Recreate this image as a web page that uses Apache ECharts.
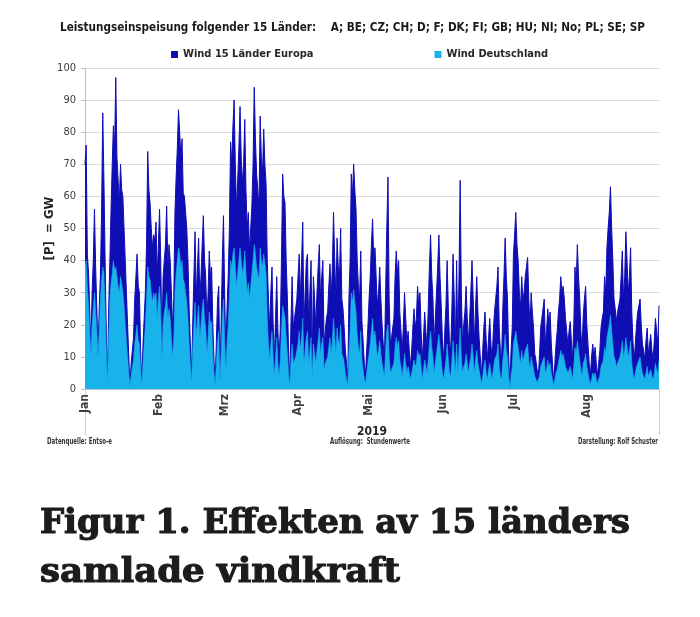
<!DOCTYPE html>
<html><head><meta charset="utf-8">
<script src="https://cdn.jsdelivr.net/npm/echarts@6/dist/echarts.min.js"></script>
<style>html,body{margin:0;padding:0;background:#fff}#c{width:700px;height:617px}</style>
</head><body><div id="c"></div>
<script>
// ---------- data ----------
const chartTitle = 'Leistungseinspeisung folgender 15 Länder:    A; BE; CZ; CH; D; F; DK; FI; GB; HU; NI; No; PL; SE; SP';
const seriesNames = ['Wind 15 Länder Europa', 'Wind Deutschland'];
const monthNames = ['Jan','Feb','Mrz','Apr','Mai','Jun','Jul','Aug'];
const monthDays = [31,28,31,30,31,30,31,31];
const yearLabel = '2019';
const yAxisName = '[P]  = GW';
const yMin = 0, yMax = 100, yStep = 10;
const footerLeft = 'Datenquelle: Entso-e';
const footerMid = 'Auflösung:  Stundenwerte';
const footerRight = 'Darstellung: Rolf Schuster';
const captionLines = ['Figur 1. Effekten av 15 länders', 'samlade vindkraft'];

// half-day values, GW — Wind 15 Länder Europa
const euJan = [70,76,42,36,25,12,30,40,56,38,25,12,25,35,55,86,65,40,18,2,25,40,56,70,82,75,97,72,65,58,70,62,60,50,40,30,20,10,1,8,12,16,28,35,42,32,30,12,1,14,22,30,45,74,62,58,50,44,48,46,52,35];
const euFeb = [45,56,40,14,35,40,45,57,38,45,40,30,19,28,55,66,75,87,80,72,78,61,60,55,50,40,25,14,4,20,35,49,28,38,47,28,35,45,54,40,35,21,30,43,35,38,20,9,2,15,28,32,4,20,40,54];
const euMar = [30,11,25,35,50,77,70,82,90,70,56,65,75,88,72,64,70,84,62,50,55,43,50,57,70,94,78,67,62,57,85,72,67,81,70,64,40,28,19,30,38,20,9,22,35,18,9,19,40,67,60,58,40,28,12,2,20,35,19,22,25,28];
const euApr = [35,42,28,40,52,19,30,40,42,19,30,40,9,35,28,19,30,38,45,28,35,40,14,18,22,24,32,39,28,38,55,40,28,47,38,35,50,28,25,19,12,8,2,28,40,67,60,70,62,56,40,32,28,43,21,15,8,4,12,19];
const euMay = [28,35,45,53,40,44,35,26,30,38,28,20,14,9,30,50,66,28,14,16,19,22,35,43,36,40,24,18,11,20,30,22,14,18,12,7,12,19,25,19,22,32,26,30,18,9,16,24,18,13,25,38,48,35,28,14,22,30,38,48,35,26];
const euJun = [15,9,18,26,40,25,14,12,25,42,28,14,40,14,35,65,30,14,20,24,32,22,14,22,30,40,28,14,25,35,24,16,10,4,12,19,24,15,9,16,22,14,9,18,24,28,32,38,19,12,9,25,35,47,35,28,10,0.5,12,19];
const euJul = [42,48,55,45,40,30,25,35,28,30,35,38,41,28,19,30,24,19,11,9,6,4,10,19,22,25,28,14,18,25,20,24,14,8,2,8,14,18,24,28,35,30,32,28,22,18,14,18,21,15,9,20,38,32,45,35,28,18,12,23,28,32];
const euAug = [20,14,8,4,10,14,10,13,8,4,8,12,19,22,24,35,30,44,50,55,63,50,40,28,25,21,24,26,28,35,43,28,35,49,40,30,35,44,24,15,9,14,20,24,26,28,20,14,12,9,15,19,11,14,17,12,9,15,22,18,14,26];

// half-day values, GW — Wind Deutschland
const deJan = [38,40,32,26,18,10,20,25,30,24,18,10,18,28,34,38,36,25,12,2,15,28,33,36,40,37,38,35,32,30,35,33,30,26,20,15,10,5,1,4,7,9,14,17,20,15,14,6,1,8,14,20,28,38,35,34,30,27,30,28,30,22];
const deFeb = [28,32,24,9,20,24,26,30,22,25,22,16,10,15,30,36,40,44,42,38,40,34,33,30,27,22,14,8,2,12,20,27,16,22,26,16,20,25,28,22,19,11,16,24,20,21,11,5,1,8,15,18,2,11,22,28];
const deMar = [15,6,14,20,28,40,38,42,44,38,32,36,40,44,40,36,38,43,36,30,33,28,32,36,40,45,42,38,36,34,44,40,38,42,39,36,22,14,9,14,18,10,4,10,16,8,4,9,18,26,24,22,16,11,5,1,8,14,8,9,10,12];
const deApr = [14,18,12,16,22,8,12,16,18,8,12,16,4,14,11,8,12,15,19,11,14,16,6,8,9,10,13,16,11,15,22,16,11,19,15,14,20,11,10,8,5,3,1,11,18,30,27,31,27,24,17,13,11,18,9,6,3,2,5,8];
const deMay = [11,14,18,22,16,18,14,10,12,15,11,8,6,4,12,18,20,10,5,6,7,8,13,16,13,15,9,7,4,7,11,8,5,7,5,3,5,7,9,7,8,12,10,11,7,3,6,9,7,5,9,14,18,13,10,5,8,11,14,17,13,9];
const deJun = [5,3,6,9,14,9,5,4,9,15,10,5,14,5,12,19,10,5,7,8,11,8,5,8,10,14,10,5,9,12,8,6,4,1.5,4,7,9,5,3,6,8,5,3,6,9,10,11,14,7,4,3,9,12,17,12,10,4,0.3,4,7];
const deJul = [14,16,18,15,13,10,8,12,9,10,12,13,14,9,6,10,8,6,4,3,2,1.5,4,7,8,9,10,5,6,9,7,8,5,3,1,3,5,6,8,10,12,10,11,9,7,6,5,6,7,5,3,7,13,11,15,12,9,6,4,8,9,11];
const deAug = [7,5,3,1.5,3,5,4,5,3,1.5,3,4,7,8,9,13,11,16,18,20,23,18,14,10,9,7,8,9,10,12,15,10,12,16,13,10,12,15,8,5,3,5,7,8,9,10,7,5,4,3,5,7,4,5,6,4,3,5,8,6,5,9];

// ---------- build ----------
const europe = [].concat(euJan, euFeb, euMar, euApr, euMay, euJun, euJul, euAug);
const germany = [].concat(deJan, deFeb, deMar, deApr, deMay, deJun, deJul, deAug);
const categories = [];
const monthStart = new Set();
monthNames.forEach((m, mi) => {
  for (let d = 1; d <= monthDays[mi]; d++) {
    ['00', '12'].forEach(h => {
      if (d === 1 && h === '00') monthStart.add(categories.length);
      categories.push(m + ' ' + d + ' ' + h + ':00');
    });
  }
});

const mctx = document.createElement('canvas').getContext('2d');
function installed(fam) {
  const probe = 'mmmmmmmmmmlliiWWQQ@#1234 abcdefg';
  return ['monospace', 'serif', 'sans-serif'].some(base => {
    mctx.font = 'bold 40px ' + base; const w0 = mctx.measureText(probe).width;
    mctx.font = 'bold 40px "' + fam + '", ' + base; const w1 = mctx.measureText(probe).width;
    return Math.abs(w0 - w1) > 0.5;
  });
}
function pick(list, fallback) {
  for (const f of list) if (installed(f)) return '"' + f + '"';
  return fallback;
}
const NARROW = pick(['Liberation Sans Narrow', 'DejaVu Sans Condensed', 'Roboto Condensed', 'Open Sans Condensed', 'Liberation Sans'], 'sans-serif');
const SLAB = pick(['DejaVu Serif', 'Noto Serif', 'Liberation Serif'], 'serif');

const DARK = '#0f0db4', LIGHT = '#19b3eb';

function fit(text, weight, size, family, target) {
  mctx.font = weight + ' ' + size + 'px ' + family;
  return target / mctx.measureText(text).width;
}
function txt(text, x, y, size, weight, family, color, targetW, strokeW) {
  const s = targetW ? fit(text, weight, size, family, targetW) : 1;
  const style = { text: text, font: weight + ' ' + size + 'px ' + family, fontSize: size, fontWeight: weight, fontFamily: family, fill: color,
      align: 'left', textAlign: 'left', verticalAlign: 'middle', textVerticalAlign: 'middle' };
  if (strokeW) { style.stroke = color; style.lineWidth = strokeW; }
  return { type: 'text', x: x, y: y, scaleX: s, silent: true, style: style };
}

const chart = echarts.init(document.getElementById('c'), null, { renderer: 'canvas' });
chart.setOption({
  animation: false,
  backgroundColor: '#fff',
  grid: { left: 85, right: 41, top: 68, bottom: 228, containLabel: false },
  legend: {
    data: seriesNames, left: 171, top: 49, padding: 0, icon: 'rect', itemWidth: 7, itemHeight: 7, itemGap: 121,
    textStyle: { fontFamily: NARROW, fontWeight: 'bold', fontSize: 11, color: '#262626' }
  },
  xAxis: {
    type: 'category', data: categories, boundaryGap: false,
    name: yearLabel, nameLocation: 'middle', nameGap: 32,
    nameTextStyle: { fontFamily: NARROW, fontWeight: 'bold', fontSize: 12, color: '#262626' },
    axisLine: { show: true, lineStyle: { color: '#bfbfbf', width: 1 } },
    axisTick: { show: true, interval: (i) => i === 0 || i === categories.length - 1, length: 46, lineStyle: { color: '#d0d0d0' } },
    axisLabel: {
      interval: (i) => monthStart.has(i), rotate: 90, margin: 5,
      formatter: (v) => v.split(' ')[0],
      fontFamily: NARROW, fontWeight: 'bold', fontSize: 12, color: '#404040'
    },
    splitLine: { show: false }
  },
  yAxis: {
    type: 'value', min: yMin, max: yMax, interval: yStep,
    name: yAxisName, nameLocation: 'middle', nameGap: 29, nameMoveOverlap: false,
    nameTextStyle: { fontFamily: NARROW, fontWeight: 'bold', fontSize: 13, color: '#262626' },
    axisLine: { show: true, lineStyle: { color: '#bfbfbf' } },
    axisTick: { show: true, length: 4, lineStyle: { color: '#bfbfbf' } },
    axisLabel: { margin: 9, fontFamily: NARROW, fontSize: 11, color: '#404040' },
    splitLine: { show: true, lineStyle: { color: '#dcdcdc', width: 1 } }
  },
  series: [
    { name: seriesNames[0], type: 'line', data: europe, showSymbol: false, symbol: 'none',
      color: DARK, lineStyle: { width: 1, color: DARK }, areaStyle: { color: DARK, opacity: 1 }, z: 2 },
    { name: seriesNames[1], type: 'line', data: germany, showSymbol: false, symbol: 'none',
      color: LIGHT, lineStyle: { width: 0.6, color: LIGHT }, areaStyle: { color: LIGHT, opacity: 1 }, z: 3 }
  ],
  graphic: [
    txt(chartTitle, 60, 28, 13, 'bold', NARROW, '#1a1a1a', 585),
    txt(footerLeft, 47, 442, 8, 'bold', NARROW, '#333', 65),
    txt(footerMid, 330, 442, 8, 'bold', NARROW, '#333', 80),
    txt(footerRight, 578, 442, 8, 'bold', NARROW, '#333', 80),
    txt(captionLines[0], 40, 524, 33, 'bold', SLAB, '#1c1c1c', 590, 1.1),
    txt(captionLines[1], 40, 573, 33, 'bold', SLAB, '#1c1c1c', 360, 1.1)
  ]
});
</script></body></html>
